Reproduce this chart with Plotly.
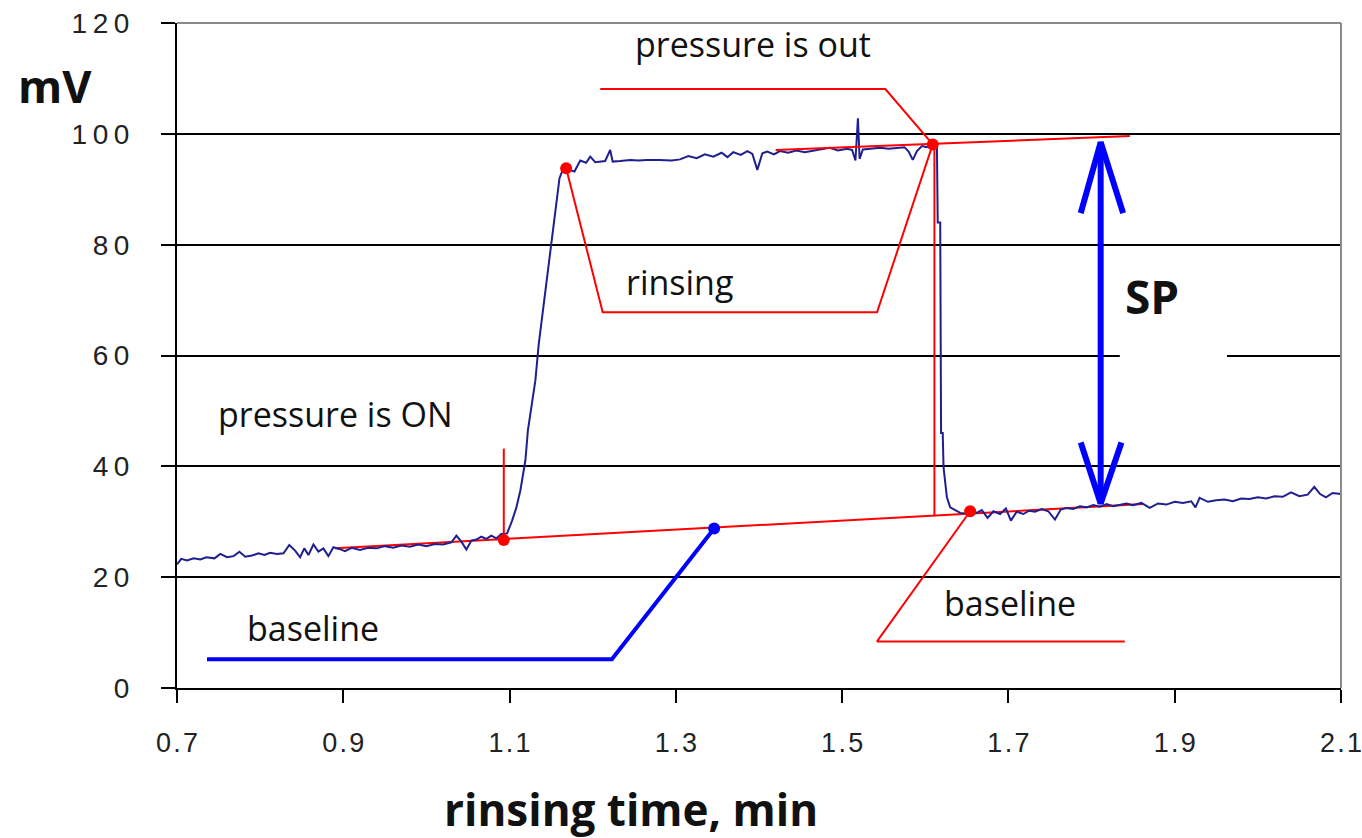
import plotly.graph_objects as go

# ---------------- data ----------------
signal_x = [0.700, 0.705, 0.712, 0.720, 0.728, 0.735, 0.745, 0.752, 0.760, 0.768,
            0.775, 0.782, 0.790, 0.798, 0.805, 0.812, 0.820, 0.828, 0.835, 0.842,
            0.848, 0.853, 0.858, 0.864, 0.870, 0.876, 0.882, 0.888, 0.895, 0.902,
            0.910, 0.920, 0.930, 0.940, 0.950, 0.960, 0.970, 0.980, 0.990, 1.000,
            1.010, 1.020, 1.030, 1.036, 1.042, 1.048, 1.054, 1.060, 1.066, 1.072,
            1.078, 1.084, 1.090, 1.097, 1.103, 1.108, 1.113, 1.119, 1.122, 1.127,
            1.131, 1.135, 1.140, 1.146, 1.151, 1.155, 1.160, 1.166, 1.172, 1.178,
            1.185, 1.192, 1.197, 1.203, 1.209, 1.215, 1.221, 1.224, 1.233, 1.245,
            1.255, 1.265, 1.280, 1.295, 1.305, 1.315, 1.325, 1.335, 1.345, 1.355,
            1.362, 1.369, 1.378, 1.386, 1.392, 1.398, 1.404, 1.410, 1.418, 1.425,
            1.435, 1.445, 1.455, 1.465, 1.475, 1.485, 1.495, 1.506, 1.512, 1.516,
            1.519, 1.521, 1.525, 1.535, 1.546, 1.556, 1.566, 1.575, 1.580, 1.585,
            1.590, 1.596, 1.602, 1.608, 1.614, 1.615, 1.618, 1.619, 1.621, 1.622,
            1.626, 1.630, 1.636, 1.642, 1.648, 1.655, 1.662, 1.668, 1.675, 1.682,
            1.690, 1.697, 1.703, 1.710, 1.718, 1.725, 1.732, 1.740, 1.748, 1.756,
            1.763, 1.770, 1.778, 1.786, 1.794, 1.802, 1.810, 1.818, 1.826, 1.834,
            1.842, 1.850, 1.860, 1.870, 1.880, 1.890, 1.900, 1.910, 1.920, 1.925,
            1.930, 1.940, 1.950, 1.960, 1.970, 1.980, 1.990, 2.000, 2.010, 2.020,
            2.030, 2.040, 2.050, 2.060, 2.068, 2.075, 2.082, 2.090, 2.100]
signal_mv = [22.3, 23.3, 23.0, 23.4, 23.2, 23.6, 23.4, 24.2, 23.6, 23.8,
             24.6, 23.7, 23.9, 24.3, 24.0, 24.4, 24.2, 24.3, 25.8, 24.8,
             23.6, 25.2, 24.0, 25.9, 24.6, 25.2, 23.8, 25.4, 25.1, 24.7,
             25.3, 24.9, 25.3, 25.2, 25.6, 25.3, 25.7, 25.5, 25.9, 25.6,
             26.0, 25.9, 26.3, 27.5, 26.4, 25.0, 26.6, 26.8, 27.3, 26.9,
             27.5, 27.0, 27.8, 27.9, 30.2, 32.5, 35.7, 41.1, 46.5, 51.9,
             55.5, 62.0, 68.0, 76.0, 82.0, 86.5, 92.0, 94.3, 93.5, 93.2,
             95.2, 94.8, 95.9, 94.9, 95.0, 95.1, 97.1, 95.0, 95.1, 95.3,
             95.2, 95.3, 95.3, 95.2, 95.4, 96.0, 95.6, 96.3, 95.9, 96.6,
             95.8, 96.7, 96.2, 96.9, 96.4, 93.5, 96.5, 96.8, 96.3, 96.9,
             96.6, 97.0, 96.7, 97.0, 97.2, 97.5, 97.0, 97.3, 97.1, 95.2,
             102.8, 95.5, 97.2, 97.4, 97.5, 97.3, 97.4, 97.6, 96.8, 95.3,
             96.9, 97.8, 97.6, 98.1, 98.2, 84.0, 84.0, 46.0, 46.0, 39.8,
             34.4, 32.6, 32.1, 31.6, 31.5, 32.0, 31.6, 32.1, 30.7, 31.9,
             31.4, 32.4, 30.2, 31.8, 31.4, 32.0, 31.8, 32.3, 31.9, 30.4,
             32.2, 32.5, 32.3, 32.8, 32.6, 33.0, 32.7, 33.2, 32.8, 33.1,
             33.3, 33.0, 33.4, 32.5, 33.3, 33.1, 33.6, 33.4, 33.7, 32.6,
             34.3, 33.6, 33.9, 34.0, 33.7, 34.2, 34.1, 34.4, 34.2, 34.6,
             34.5, 35.3, 34.6, 34.9, 36.3, 35.0, 34.4, 35.2, 35.0]

# baseline and plateau reference lines (red)
baseline_x = [0.890, 1.862]
baseline_mv = [25.2, 33.2]
plateau_x = [1.420, 1.846]
plateau_mv = [97.1, 99.6]
pressure_out_x = [1.611, 1.611]
pressure_out_mv = [98.1, 31.0]
pressure_on_x = [1.093, 1.093]
pressure_on_mv = [26.7, 43.2]

# key points (red dots)
key_x = [1.093, 1.168, 1.609, 1.654]
key_mv = [26.7, 93.8, 98.1, 31.9]

# callout leader lines
rinsing_call_x = [1.168, 1.212, 1.542, 1.609]
rinsing_call_mv = [93.8, 67.8, 67.8, 98.1]
out_call_x = [1.209, 1.552, 1.609]
out_call_mv = [108.1, 108.1, 98.1]
base_r_call_x = [1.654, 1.542, 1.840]
base_r_call_mv = [31.9, 8.4, 8.4]
base_l_call_x = [0.736, 1.223, 1.346]
base_l_call_mv = [5.2, 5.2, 28.8]
base_l_dot_x = [1.346]
base_l_dot_mv = [28.8]

# SP double arrow
sp_x = [1.811, 1.811]
sp_mv = [98.5, 33.3]
sp_head_top_x = [1.787, 1.811, 1.838]
sp_head_top_mv = [85.7, 98.5, 85.7]
sp_head_bot_x = [1.787, 1.811, 1.836]
sp_head_bot_mv = [44.3, 33.3, 44.3]
grid_gap_x = [1.834, 1.963]
grid_gap_mv = [60, 60]

x_ticks = [0.7, 0.9, 1.1, 1.3, 1.5, 1.7, 1.9, 2.1]
y_ticks = [0, 20, 40, 60, 80, 100, 120]

labels = [
    ("pressure is out", 1.393, 116.2),
    ("rinsing", 1.304, 73.2),
    ("pressure is ON", 0.890, 49.5),
    ("baseline", 0.864, 10.8),
    ("baseline", 1.702, 15.3),
]

THIN = "\u2009"
HAIR = "\u200a"
def spaced(v, sep):
    s = f"{v:g}" if isinstance(v, int) else f"{v:.1f}"
    return sep.join(list(s))

RED = "#ff0000"
BLUE = "#0000ff"
NAVY = "#1f1f8f"

fig = go.Figure()

def line(x, y, color, width, name):
    fig.add_trace(go.Scatter(x=x, y=y, mode="lines", name=name,
                             line=dict(color=color, width=width),
                             hoverinfo="skip", showlegend=False))

line(grid_gap_x, grid_gap_mv, "white", 4, "gap")
line(baseline_x, baseline_mv, RED, 2, "baseline fit")
fig.add_trace(go.Scatter(x=signal_x, y=signal_mv, mode="lines", name="signal",
                         line=dict(color=NAVY, width=2), showlegend=False))
line(plateau_x, plateau_mv, RED, 2, "plateau fit")
line(pressure_out_x, pressure_out_mv, RED, 2, "pressure out")
line(pressure_on_x, pressure_on_mv, RED, 2, "pressure on")
line(rinsing_call_x, rinsing_call_mv, RED, 2, "rinsing callout")
line(out_call_x, out_call_mv, RED, 2, "out callout")
line(base_r_call_x, base_r_call_mv, RED, 2, "baseline callout r")
line(base_l_call_x, base_l_call_mv, BLUE, 4, "baseline callout l")
line(sp_x, sp_mv, BLUE, 6, "SP")
line(sp_head_top_x, sp_head_top_mv, BLUE, 6, "SP head top")
line(sp_head_bot_x, sp_head_bot_mv, BLUE, 6, "SP head bottom")
fig.add_trace(go.Scatter(x=key_x, y=key_mv, mode="markers",
                         marker=dict(color=RED, size=12), showlegend=False))
fig.add_trace(go.Scatter(x=base_l_dot_x, y=base_l_dot_mv, mode="markers",
                         marker=dict(color=BLUE, size=12), showlegend=False))

ann = []
for text, x, y in labels:
    ann.append(dict(text=text, x=x, y=y, xref="x", yref="y", showarrow=False,
                    font=dict(family="Open Sans", size=34, color="#111111"),
                    xanchor="center", yanchor="middle"))
ann.append(dict(text="<b>SP</b>", x=1.873, y=70.7, xref="x", yref="y",
                showarrow=False, xanchor="center", yanchor="middle",
                font=dict(family="Open Sans", size=46, color="#111111")))
ann.append(dict(text="<b>mV</b>", x=(55 - 177) / 1164, y=(687.5 - 85) / 664.5,
                xref="paper", yref="paper", showarrow=False,
                xanchor="center", yanchor="middle",
                font=dict(family="Open Sans", size=45, color="#111111")))
ann.append(dict(text="<b>rinsing time, min</b>", x=(631 - 177) / 1164,
                y=(687.5 - 808) / 664.5, xref="paper", yref="paper",
                showarrow=False, xanchor="center", yanchor="middle",
                font=dict(family="Open Sans", size=44, color="#111111")))

tickfont = dict(family="Liberation Sans", size=28, color="#222222")
xtickfont = dict(family="Liberation Sans", size=27, color="#222222")

fig.update_layout(
    width=1362, height=838,
    margin=dict(l=177, r=21, t=23, b=150, autoexpand=False),
    paper_bgcolor="white", plot_bgcolor="white",
    annotations=ann,
    shapes=[
        dict(type="line", xref="paper", yref="paper", x0=0, x1=1, y0=1, y1=1,
             line=dict(color="#8a8a8a", width=2), layer="above"),
        dict(type="line", xref="paper", yref="paper", x0=1, x1=1, y0=0, y1=1,
             line=dict(color="#8a8a8a", width=2), layer="above"),
    ],
    xaxis=dict(range=[0.6999, 2.1001], tickvals=x_ticks,
               ticktext=[spaced(v, HAIR) for v in x_ticks],
               ticks="outside", ticklen=13, tickwidth=2, tickcolor="black",
               showline=True, linecolor="black", linewidth=2,
               showgrid=False, zeroline=False, tickfont=xtickfont,
               ticklabelstandoff=17, ticklabeloverflow="allow",
               automargin=False, fixedrange=True),
    yaxis=dict(range=[0, 120.01], tickvals=y_ticks,
               ticktext=[spaced(v, THIN) for v in y_ticks],
               ticks="outside", ticklen=14, tickwidth=2, tickcolor="black",
               showline=True, linecolor="black", linewidth=2,
               showgrid=True, gridcolor="black", gridwidth=2,
               zeroline=False, tickfont=tickfont,
               ticklabelstandoff=26, automargin=False, fixedrange=True),
)

fig.write_html("out.html")
